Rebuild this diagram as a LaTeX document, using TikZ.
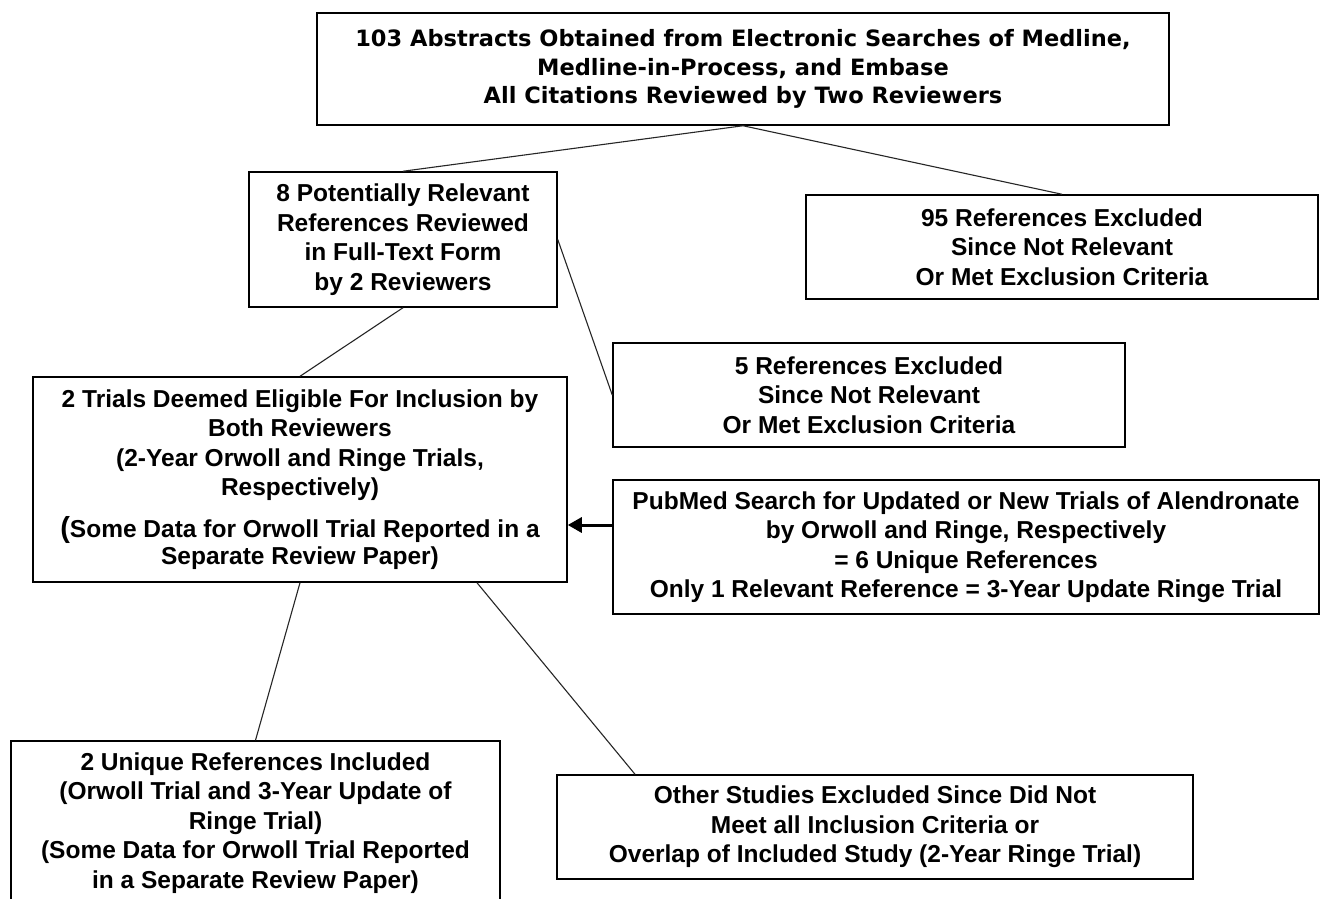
\documentclass[tikz,border=0pt]{standalone}
\usepackage{fontspec}
\setmainfont{Liberation Sans}
\newfontfamily\topfont{DejaVu Sans}
\usetikzlibrary{arrows.meta}
\tikzset{
  box/.style={draw, line width=1.5pt, inner sep=0pt, align=center, fill=white,
    font={\bfseries\fontsize{24.5}{29.5}\selectfont}},
  topbox/.style={box, font={\topfont\bfseries\fontsize{22.5}{28.5}\selectfont}},
  link/.style={line width=1.1pt, black!85},
  bigarrow/.style={line width=3pt, -{Triangle[length=14pt,width=15pt]}}
}
\begin{document}
\begin{tikzpicture}[x=1pt,y=-1pt]
\useasboundingbox (0,0) rectangle (1320,899);
\fill[white] (0,0) rectangle (1320,899);
\clip (0,0) rectangle (1320,899);

\node[topbox, minimum width=852pt, minimum height=112pt] (top) at (743,69)
  {103 Abstracts Obtained from Electronic Searches of Medline,\\
   Medline-in-Process, and Embase\\
   All Citations Reviewed by Two Reviewers};

\node[box, minimum width=308pt, minimum height=135pt] (pot) at (403,239.5)
  {8 Potentially Relevant\\References Reviewed\\in Full-Text Form\\by 2 Reviewers};

\node[box, minimum width=512pt, minimum height=104pt] (ex95) at (1062,247)
  {95 References Excluded\\Since Not Relevant\\Or Met Exclusion Criteria};

\node[box, minimum width=512pt, minimum height=104pt] (ex5) at (869,395)
  {5 References Excluded\\Since Not Relevant\\Or Met Exclusion Criteria};

\node[box, minimum width=534pt, minimum height=205pt] (trials) at (300,479.5)
  {2 Trials Deemed Eligible For Inclusion by\\
   Both Reviewers\\
   (2-Year Orwoll and Ringe Trials,\\
   Respectively)\\[12pt]
   {\fontsize{29}{29}\selectfont(}Some Data for Orwoll Trial Reported in a\\[-2.5pt]
   Separate Review Paper)};

\node[box, minimum width=706pt, minimum height=134pt] (pubmed) at (966,547)
  {PubMed Search for Updated or New Trials of Alendronate\\
   by Orwoll and Ringe, Respectively\\
   = 6 Unique References\\
   Only 1 Relevant Reference = 3-Year Update Ringe Trial};

\node[box, minimum width=489pt, minimum height=164pt] (uniq) at (255.5,823)
  {2 Unique References Included\\
   (Orwoll Trial and 3-Year Update of\\
   Ringe Trial)\\
   (Some Data for Orwoll Trial Reported\\
   in a Separate Review Paper)};

\node[box, minimum width=636pt, minimum height=104pt] (other) at (875,827)
  {Other Studies Excluded Since Did Not\\
   Meet all Inclusion Criteria or\\
   Overlap of Included Study (2-Year Ringe Trial)};

\draw[link] (top.south) -- (pot.north);
\draw[link] (top.south) -- (ex95.north);
\draw[link] (pot.south) -- (trials.north);
\draw[link] (pot.east) -- (ex5.west);
\draw[link] (trials.south) -- (uniq.north);
\draw[link] ([xshift=177pt]trials.south) -- ([xshift=-240pt]other.north);

\coordinate (arrS) at (613,525);
\draw[bigarrow] (arrS) -- (arrS -| trials.east);
\end{tikzpicture}
\end{document}
